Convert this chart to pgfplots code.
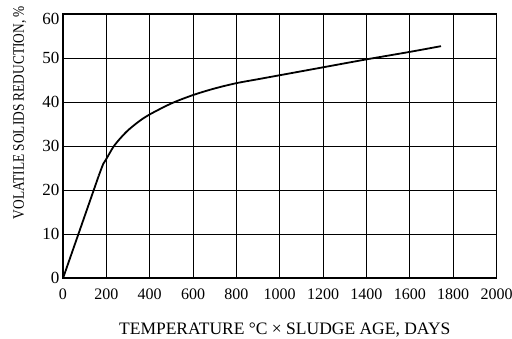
\documentclass[border=0pt]{standalone}
\usepackage{pgfplots}
\pgfplotsset{compat=1.18}
\usepackage{fontspec}
\setmainfont{Liberation Serif}
\newfontfamily\ylabfont[FakeStretch=0.835]{Liberation Serif}
\begin{document}
\begin{tikzpicture}
\useasboundingbox (-63pt,-60.7pt) rectangle (449pt,278.3pt);
\begin{axis}[
  at={(0pt,0pt)}, anchor=south west,
  width=433.5pt, height=264.3pt, scale only axis,
  xmin=0, xmax=2000, ymin=0, ymax=60,
  xtick={0,200,...,2000},
  ytick={0,10,...,50},
  extra y ticks={60},
  extra y tick style={yticklabel style={yshift=-4.5pt}},
  major tick length=0pt,
  grid=major,
  major grid style={black, line width=1pt},
  axis line style={black, line width=1.8pt},
  /pgf/number format/assume math mode=true,
  /pgf/number format/set thousands separator={},
  xticklabel style={yshift=-7pt, font=\fontsize{16}{18}\selectfont},
  yticklabel style={font=\fontsize{17}{19}\selectfont},
  xlabel={TEMPERATURE °C × SLUDGE AGE, DAYS},
  xlabel style={at={(axis description cs:0.5,0)}, anchor=base, yshift=-56.7pt, xshift=5pt, font=\fontsize{17.5}{19}\selectfont},
  ylabel={VOLATILE SOLIDS REDUCTION, \%},
  ylabel style={at={(axis description cs:-0.09,0.627)}, anchor=base, font=\fontsize{16}{18}\ylabfont},
  clip=false,
]
\addplot[black, line width=1.8pt] coordinates {(0,0) (165,23.3)};
\addplot[black, line width=1.8pt, smooth] coordinates {
(165,23.3) (186,26.0) (200,27.1) (232,29.8) (263,31.7) (300,33.6) (350,35.6) (400,37.2)
(500,39.7) (600,41.6) (700,43.1) (800,44.3) (900,45.2) (1000,46.1) (1200,47.9)
(1400,49.7) (1600,51.4) (1744,52.7)};
\end{axis}
\end{tikzpicture}
\end{document}
